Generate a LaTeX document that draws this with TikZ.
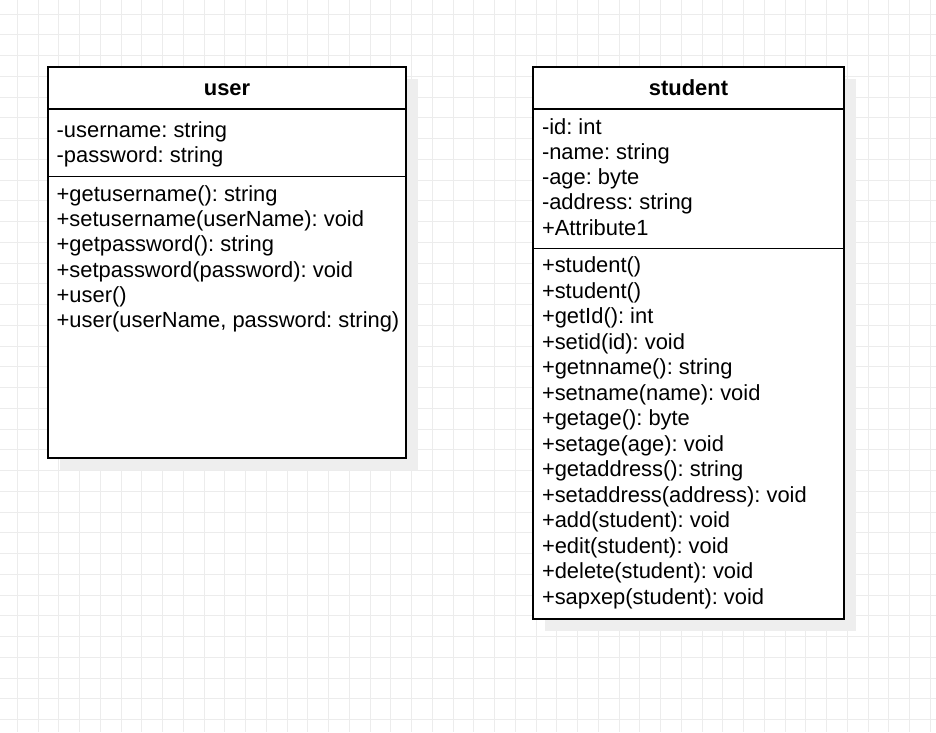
\documentclass[tikz,border=0pt]{standalone}
\usepackage{fontspec}
\setmainfont{Liberation Sans}
\frenchspacing
\definecolor{gridgray}{RGB}{236,236,236}
\definecolor{shadowgray}{RGB}{238,238,238}
\tikzset{
  gridline/.style={draw=gridgray, line width=1pt},
  classframe/.style={draw=black, line width=1.9pt},
  shadowbox/.style={fill=shadowgray},
  member/.style={anchor=base west, inner sep=0pt, font=\fontsize{21.9}{25.2}\selectfont},
  classtitle/.style={anchor=base, inner sep=0pt, font=\fontsize{21.9}{25.2}\selectfont\bfseries},
}
\begin{document}
\begin{tikzpicture}[x=1pt, y=-1pt]
\useasboundingbox (0,0) rectangle (936,732);
\fill[white] (0,0) rectangle (936,732);
% grid
\foreach \i in {0,...,44} {
  \draw[gridline] ({17.3+20.75*\i},0) -- ({17.3+20.75*\i},732);
}
\foreach \i in {0,...,35} {
  \draw[gridline] (0,{14+20.75*\i}) -- (936,{14+20.75*\i});
}
% shadows
\fill[shadowbox] (60.3,78.7) rectangle (417.7,469.7);
\fill[shadowbox] (545.3,78.7) rectangle (855.7,631.3);
% user class
\fill[white] (48.3,66.7) rectangle (405.7,457.7);
\node[classtitle] (utitle) at (227,95) {user};
\foreach \t [count=\i] in {-username: string, -password: string} {
  \node[member] (ua\i) at (56.5,{137+25*(\i-1)}) {\t};
}
\foreach \t [count=\i] in {+getusername(): string, +setusername(userName): void, +getpassword(): string, +setpassword(password): void, +user(), {+user(userName, password: string)}} {
  \node[member] (um\i) at (56.5,{201.5+25.2*(\i-1)}) {\t};
}
\draw[classframe] (48.3,66.7) rectangle (405.7,457.7);
\draw[classframe] (48.3,109) -- (405.7,109);
\draw[classframe] (48.3,176.5) -- (405.7,176.5);
% student class
\fill[white] (533.3,66.7) rectangle (843.7,619.3);
\node[classtitle] (stitle) at (688.5,95) {student};
\foreach \t [count=\i] in {-id: int, -name: string, -age: byte, -address: string, +Attribute1} {
  \node[member] (sa\i) at (541.8,{134+25.3*(\i-1)}) {\t};
}
\foreach \t [count=\i] in {+student(), +student(), +getId(): int, +setid(id): void, +getnname(): string, +setname(name): void, +getage(): byte, +setage(age): void, +getaddress(): string, +setaddress(address): void, +add(student): void, +edit(student): void, +delete(student): void, +sapxep(student): void} {
  \node[member] (sm\i) at (541.8,{272.5+25.5*(\i-1)}) {\t};
}
\draw[classframe] (533.3,66.7) rectangle (843.7,619.3);
\draw[classframe] (533.3,109) -- (843.7,109);
\draw[classframe] (533.3,248.5) -- (843.7,248.5);
\end{tikzpicture}
\end{document}
